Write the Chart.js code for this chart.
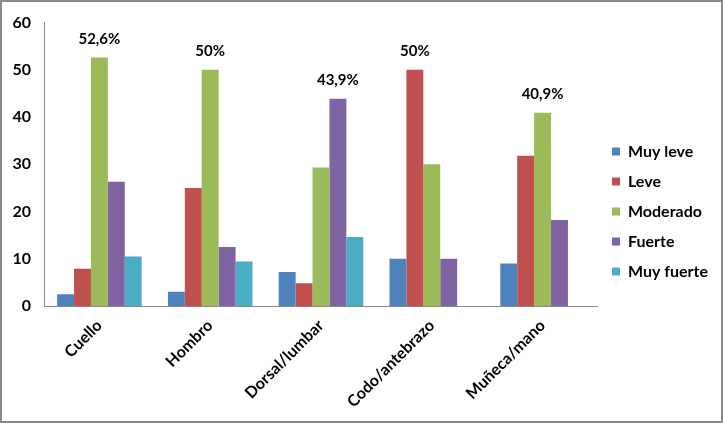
<!DOCTYPE html>
<html>
<head>
<meta charset="utf-8">
<script src="https://cdn.jsdelivr.net/npm/chart.js@4"></script>
<style>
  html, body { margin: 0; padding: 0; background: #fff; }
  #wrap { position: absolute; left: 0; top: 0; width: 723px; height: 423px; }
</style>
</head>
<body>
<div id="wrap"><canvas id="c" width="723" height="423"></canvas></div>
<script>
const CATEGORIES = ['Cuello', 'Hombro', 'Dorsal/lumbar', 'Codo/antebrazo', 'Muñeca/mano'];
const MUY_LEVE   = [2.5, 3.0, 7.2, 10.0, 9.0];
const LEVE       = [7.9, 25.0, 4.8, 50.0, 31.8];
const MODERADO   = [52.6, 50.0, 29.3, 30.0, 40.9];
const FUERTE     = [26.3, 12.5, 43.9, 10.0, 18.2];
const MUY_FUERTE = [10.5, 9.4, 14.6, 0, 0];
const PEAK_LABELS = ['52,6%', '50%', '43,9%', '50%', '40,9%'];
const Y_TICKS = [0, 10, 20, 30, 40, 50, 60];

const FONT = "Lato, 'Open Sans', sans-serif";

// peak value labels above the tallest bar of each group
const peakLabels = {
  id: 'peakLabels',
  afterDatasetsDraw(chart) {
    const ctx = chart.ctx;
    ctx.save();
    ctx.font = "bold 15px " + FONT;
    ctx.fillStyle = '#000';
    ctx.textAlign = 'center';
    ctx.textBaseline = 'bottom';
    CATEGORIES.forEach((_, i) => {
      let best = 0, bestVal = -1;
      chart.data.datasets.forEach((ds, d) => {
        if (ds.data[i] > bestVal) { bestVal = ds.data[i]; best = d; }
      });
      const bar = chart.getDatasetMeta(best).data[i];
      ctx.fillText(PEAK_LABELS[i], bar.x, bar.y - 11);
    });
    ctx.restore();
  }
};

// legend box spans the whole height so the items centre on the canvas
const legendFullHeight = {
  id: 'legendFullHeight',
  afterLayout(chart) {
    const lg = chart.legend;
    lg.top = 0;
    lg.bottom = chart.height;
    lg.height = chart.height;
  }
};

// grey frame round the chart
const frame = {
  id: 'frame',
  afterDraw(chart) {
    const ctx = chart.ctx;
    ctx.save();
    ctx.strokeStyle = '#8a8a8a';
    ctx.lineWidth = 2;
    ctx.strokeRect(1, 1, chart.width - 2, chart.height - 2);
    ctx.restore();
  }
};

new Chart(document.getElementById('c'), {
  type: 'bar',
  data: {
    labels: CATEGORIES,
    datasets: [
      { label: 'Muy leve',   data: MUY_LEVE,   backgroundColor: '#4F81BD' },
      { label: 'Leve',       data: LEVE,       backgroundColor: '#C0504D' },
      { label: 'Moderado',   data: MODERADO,   backgroundColor: '#9BBB59' },
      { label: 'Fuerte',     data: FUERTE,     backgroundColor: '#8064A2' },
      { label: 'Muy fuerte', data: MUY_FUERTE, backgroundColor: '#4BACC6' }
    ]
  },
  options: {
    responsive: false,
    animation: false,
    devicePixelRatio: 1,
    layout: { padding: { left: 0, top: 16, right: 5, bottom: 0 } },
    datasets: { bar: { categoryPercentage: 0.763, barPercentage: 1.0 } },
    scales: {
      x: {
        grid: { display: false, drawTicks: false },
        border: { display: true, color: '#8a8a8a', width: 1 },
        ticks: {
          color: '#000', minRotation: 45, maxRotation: 45, padding: 10,
          font: { family: FONT, size: 16, weight: 'bold' }
        },
        afterFit(scale) { scale.height = 117; }
      },
      y: {
        min: 0, max: 60,
        afterBuildTicks(scale) { scale.ticks = Y_TICKS.map(v => ({ value: v })); },
        grid: { display: false, drawTicks: false },
        border: { display: true, color: '#8a8a8a', width: 1 },
        ticks: {
          color: '#000', padding: 13,
          font: { family: FONT, size: 16, weight: 'bold' }
        },
        afterFit(scale) { scale.width = 44; }
      }
    },
    plugins: {
      legend: {
        position: 'right',
        labels: {
          boxWidth: 8, boxHeight: 8, padding: 14, color: '#000',
          font: { family: FONT, size: 16, weight: 'bold' }
        }
      },
      tooltip: { enabled: false }
    }
  },
  plugins: [peakLabels, legendFullHeight, frame]
});
</script>
</body>
</html>
